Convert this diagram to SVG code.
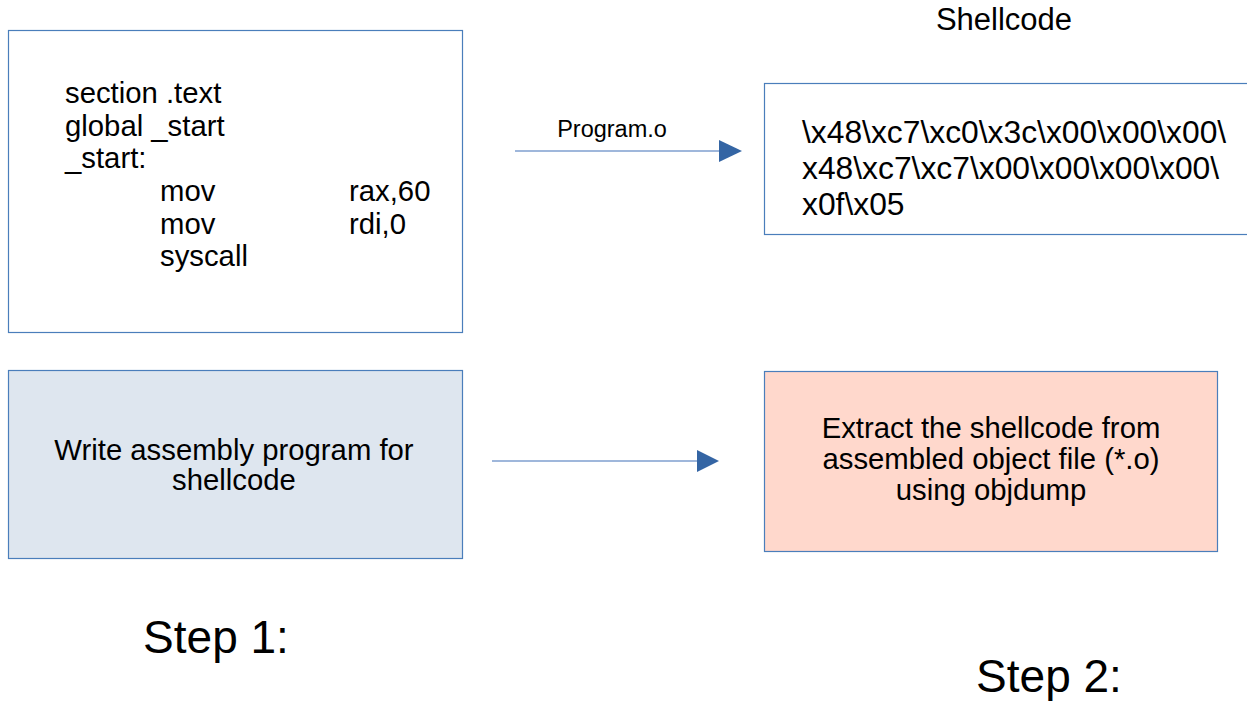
<svg xmlns="http://www.w3.org/2000/svg" width="1247" height="701" viewBox="0 0 1247 701">
<defs>
<style>
.box{stroke:#4a7ebb;stroke-width:1.2}
.t{font-family:"Liberation Sans",Arial,sans-serif;fill:#000}
.conn{stroke:#7f9fcf;stroke-width:1.5;fill:none}
.head{fill:#3465a4}
</style>
</defs>
<rect width="1247" height="701" fill="#fff"/>
<g id="code">
<rect class="box" x="8.5" y="30.5" width="454" height="302" fill="#fff"/>
<g class="t" font-size="29.3">
<text x="65" y="103">section .text</text>
<text x="65" y="136">global _start</text>
<text x="65" y="168">_start:</text>
<text x="160" y="201">mov</text><text x="349" y="201">rax,60</text>
<text x="160" y="234">mov</text><text x="349" y="234">rdi,0</text>
<text x="160" y="266">syscall</text>
</g>
</g>
<g id="shellcode">
<text class="t" x="1004" y="30" font-size="31" text-anchor="middle">Shellcode</text>
<rect class="box" x="764.5" y="83.5" width="500" height="151" fill="#fff"/>
<g class="t" font-size="31.8">
<text x="802" y="143">\x48\xc7\xc0\x3c\x00\x00\x00\</text>
<text x="802" y="179">x48\xc7\xc7\x00\x00\x00\x00\</text>
<text x="802" y="215">x0f\x05</text>
</g>
</g>
<g id="step1">
<rect class="box" x="8.5" y="370.5" width="454" height="188" fill="#dee6ef"/>
<g class="t" font-size="29.3" text-anchor="middle">
<text x="234" y="460">Write assembly program for</text>
<text x="234" y="490">shellcode</text>
</g>
</g>
<g id="step2">
<rect class="box" x="764.5" y="371.5" width="453" height="180" fill="#ffd8cc"/>
<g class="t" font-size="29.3" text-anchor="middle">
<text x="991" y="438">Extract the shellcode from</text>
<text x="991" y="469">assembled object file (*.o)</text>
<text x="991" y="500">using objdump</text>
</g>
</g>
<g id="labels" class="t" font-size="46" text-anchor="middle">
<text x="216" y="653">Step 1:</text>
<text x="1049" y="692">Step 2:</text>
</g>
<g id="connectors">
<line class="conn" x1="515" y1="151" x2="720" y2="151"/>
<polygon class="head" points="719,140 742,151 719,162"/>
<text class="t" x="612" y="137" font-size="23.5" text-anchor="middle">Program.o</text>
<line class="conn" x1="492" y1="461" x2="698" y2="461"/>
<polygon class="head" points="697,450 719,461 697,472"/>
</g>
</svg>
